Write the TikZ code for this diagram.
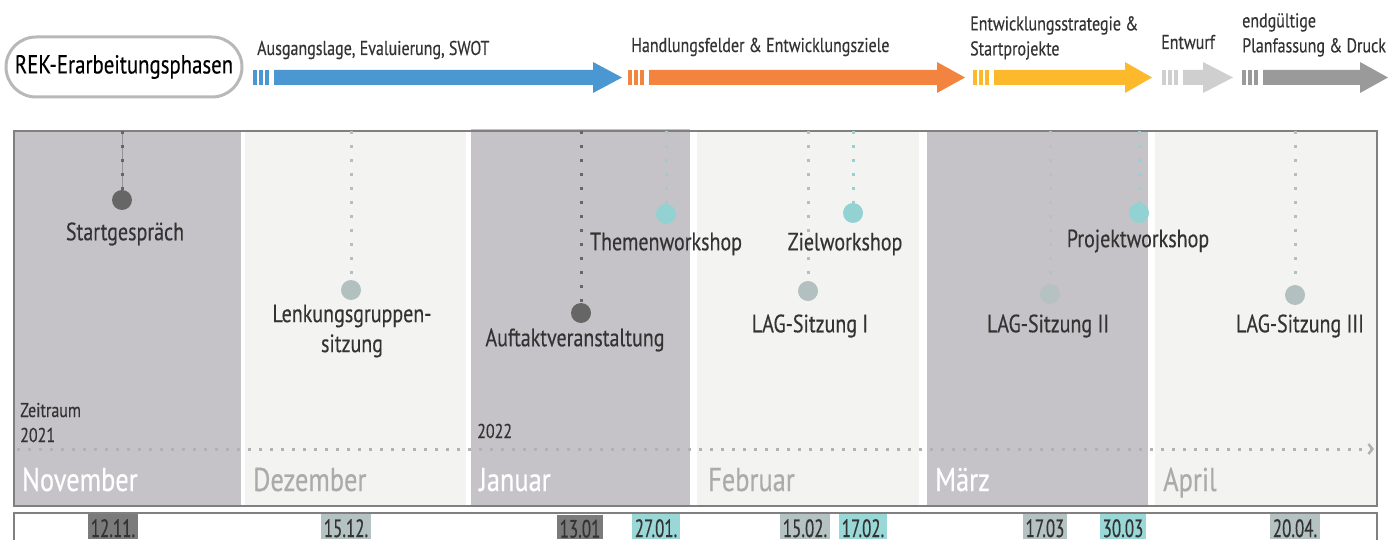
\documentclass[tikz,border=0pt]{standalone}
\usepackage{fontspec}
\setmainfont[FakeStretch=0.8, FakeBold=0.35]{PT Sans}
\newfontfamily\schmal[FakeStretch=0.68, FakeBold=0.35]{PT Sans}
\usepackage{tikz}
\usetikzlibrary{arrows.meta, positioning, calc}

\definecolor{phaseblau}{RGB}{74,151,210}
\definecolor{phaseorange}{RGB}{243,132,63}
\definecolor{phasegelb}{RGB}{253,185,44}
\definecolor{phasehell}{RGB}{207,207,207}
\definecolor{phasegrau}{RGB}{154,154,154}
\definecolor{monatdunkel}{RGB}{197,195,199}
\definecolor{monathell}{RGB}{243,243,242}
\definecolor{punktdunkel}{RGB}{102,102,102}
\definecolor{punktgrau}{RGB}{178,192,192}
\definecolor{punkttuerkis}{RGB}{147,210,210}
\definecolor{datumdunkel}{RGB}{123,123,123}
\definecolor{datumgrau}{RGB}{181,194,194}
\definecolor{datumtuerkis}{RGB}{154,216,216}
\definecolor{schrift}{RGB}{51,51,51}
\definecolor{rahmen}{RGB}{128,128,128}

\begin{document}
\begin{tikzpicture}[x=1pt,y=-1pt,
    pill/.style={draw=black!28, line width=3pt, rounded corners=30pt,
        minimum width=236pt, minimum height=60pt, text=black,
        font=\fontsize{26}{28}\selectfont},
    phasetext/.style={text=schrift, inner sep=0pt, align=left,
        font=\fontsize{20}{25}\selectfont},
    monat/.style={anchor=base west, inner sep=0pt,
        font=\fontsize{33}{36}\selectfont},
    ereignis/.style={text=schrift, align=center, inner sep=0pt,
        font=\fontsize{25}{30}\selectfont},
    klein/.style={text=schrift, align=left, inner sep=0pt, anchor=base west,
        font=\fontsize{20}{25}\selectfont},
    punkt/.style={circle, inner sep=0pt, minimum size=20pt},
    faden/.style={line width=3pt, dash pattern=on 3pt off 11pt},
    zeitlinie/.style={line width=3pt, color=black!30, dash pattern=on 3pt off 8pt},
    datum/.style={anchor=base, text=schrift, inner xsep=3pt, inner ysep=1.5pt,
        text height=21.5pt, text depth=0pt, font=\schmal\fontsize{25}{27}\selectfont}]

    \useasboundingbox (0,0) rectangle (1392,540);

    % Phasen oben
    \node[pill] (titel) at (124,67) {REK-Erarbeitungsphasen};

    \foreach \a/\b/\c/\farbe in {253/593/622/phaseblau, 628/937/965/phaseorange,
        973/1125/1152/phasegelb, 1162/1203/1233/phasehell, 1242/1360/1388/phasegrau}{
        \fill[\farbe] (\a,70) rectangle ++(4,15);
        \fill[\farbe] (\a+6,70) rectangle ++(4,15);
        \fill[\farbe] (\a+12,70) rectangle ++(4,15);
        \fill[\farbe] (\a+21,70) -- (\b,70) -- (\b,62) -- (\c,77.5) -- (\b,93)
            -- (\b,85) -- (\a+21,85) -- cycle;
    }

    \node[phasetext, anchor=base west] (p1) at (257,55) {Ausgangslage, Evaluierung, SWOT};
    \node[phasetext, anchor=base west] (p2) at (631,52) {Handlungsfelder \& Entwicklungsziele};
    \node[phasetext, anchor=north west] (p3) at (970,16) {Entwicklungsstrategie \&\\Startprojekte};
    \node[phasetext, anchor=base west] (p4) at (1161,49) {Entwurf};
    \node[phasetext, anchor=north west] (p5) at (1242,13) {endgültige\\Planfassung \& Druck};

    % Monate
    \fill[monatdunkel] (14,131) rectangle (241,506);
    \fill[monathell] (245,131) rectangle (466,506);
    \fill[monatdunkel] (471,129) rectangle (690,506);
    \fill[monathell] (697,131) rectangle (919,506);
    \fill[monatdunkel] (927,131) rectangle (1148,506);
    \fill[monathell] (1155,131) rectangle (1377,506);
    \draw[rahmen, line width=1.2pt] (14,131) rectangle (1377,506);

    \node[monat, text=white] (nov) at (22,491) {November};
    \node[monat, text=black!33] (dez) at (253,491) {Dezember};
    \node[monat, text=white] (jan) at (479,491) {Januar};
    \node[monat, text=black!33] (feb) at (708,491) {Februar};
    \node[monat, text=white] (mrz) at (935,491) {März};
    \node[monat, text=black!33] (apr) at (1163,491) {April};

    \node[klein] (zeitraum) at (20,442) {Zeitraum\\2021};
    \node[klein] (jahr) at (477,438) {2022};

    % Zeitachse
    \coordinate (zeitA) at (17,449);
    \coordinate (zeitB) at (1374,449);
    \draw[zeitlinie, -{Straight Barb[length=4pt,width=10pt,line width=2.5pt]}] (zeitA) -- (zeitB);

    % Termine
    \node[punkt, fill=punktdunkel] (start) at (122,200) {};
    \node[punkt, fill=punktgrau] (lenk) at (351,290) {};
    \node[punkt, fill=punktdunkel] (auftakt) at (581,313) {};
    \node[punkt, fill=punkttuerkis] (thema) at (666,214) {};
    \node[punkt, fill=punktgrau] (lag1) at (808,291) {};
    \node[punkt, fill=punkttuerkis] (ziel) at (853,213) {};
    \node[punkt, fill=punktgrau!80!monatdunkel] (lag2) at (1050,294) {};
    \node[punkt, fill=punkttuerkis] (projekt) at (1139,213) {};
    \node[punkt, fill=punktgrau] (lag3) at (1295,295) {};

    \coordinate (startO) at (122,131);
    \coordinate (lenkO) at (351,131);
    \coordinate (auftaktO) at (581,131);
    \coordinate (themaO) at (666,131);
    \coordinate (lag1O) at (808,131);
    \coordinate (zielO) at (853,131);
    \coordinate (lag2O) at (1050,131);
    \coordinate (projektO) at (1139,131);
    \coordinate (lag3O) at (1295,131);

    \draw[punktdunkel!70, line width=0.5pt] (startO) -- (start);
    \draw[faden, punktdunkel] (startO) -- (start);
    \draw[faden, punktgrau] (lenkO) -- (lenk);
    \draw[faden, punktdunkel] (auftaktO) -- (auftakt);
    \draw[faden, punkttuerkis] (themaO) -- (thema);
    \draw[faden, punktgrau] (lag1O) -- (lag1);
    \draw[faden, punkttuerkis] (zielO) -- (ziel);
    \draw[faden, punktgrau!80!monatdunkel] (lag2O) -- (lag2);
    \draw[faden, punkttuerkis] (projektO) -- (projekt);
    \draw[faden, punktgrau] (lag3O) -- (lag3);

    \node[ereignis] (startT) at (125,234) {Startgespräch};
    \node[ereignis] (lenkT) at (352,331) {Lenkungsgruppen-\\sitzung};
    \node[ereignis] (auftaktT) at (575,340) {Auftaktveranstaltung};
    \node[ereignis] (themaT) at (666,244) {Themenworkshop};
    \node[ereignis] (zielT) at (845,244) {Zielworkshop};
    \node[ereignis] (lag1T) at (810,326) {LAG-Sitzung I};
    \node[ereignis] (lag2T) at (1048,326) {LAG-Sitzung II};
    \node[ereignis] (projektT) at (1138,241) {Projektworkshop};
    \node[ereignis] (lag3T) at (1300,326) {LAG-Sitzung III};

    % Datumsleiste
    \draw[rahmen, line width=1.2pt] (14,513) rectangle (1377,560);
    \node[datum, fill=datumdunkel] (d1) at (113,537) {12.11.};
    \node[datum, fill=datumgrau] (d2) at (346,537) {15.12.};
    \node[datum, fill=datumdunkel] (d3) at (580,537.5) {13.01};
    \node[datum, fill=datumtuerkis] (d4) at (656,537) {27.01.};
    \node[datum, fill=datumgrau] (d5) at (805,537) {15.02.};
    \node[datum, fill=datumtuerkis] (d6) at (863,537) {17.02.};
    \node[datum, fill=datumgrau] (d7) at (1045,537) {17.03};
    \node[datum, fill=datumtuerkis] (d8) at (1123,537) {30.03};
    \node[datum, fill=datumgrau] (d9) at (1295,537) {20.04.};

\end{tikzpicture}
\end{document}
